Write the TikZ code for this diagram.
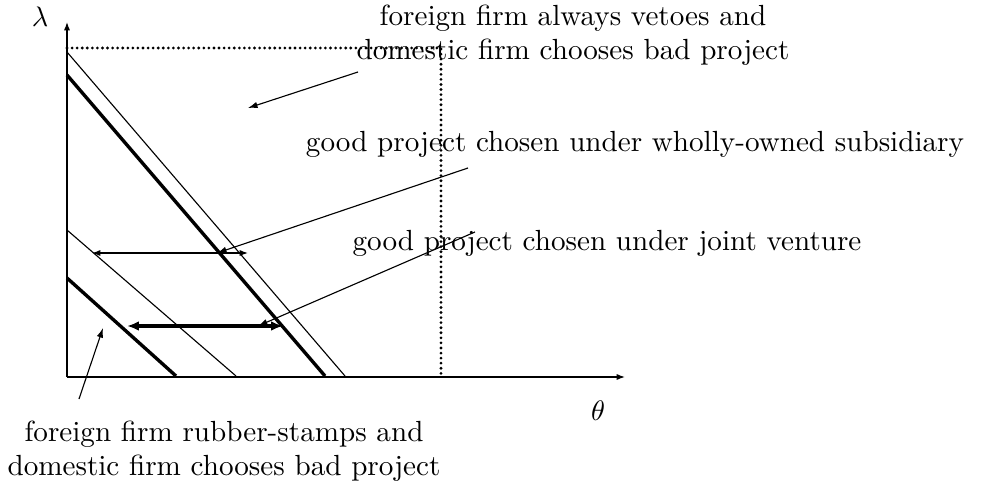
\documentclass[tikz,border=0pt]{standalone}
\usetikzlibrary{arrows.meta}
\begin{document}
\begin{tikzpicture}[x=0.3552pt,y=-0.3552pt,
  axis/.style={line width=0.4pt,-{Latex[length=3pt,width=2.2pt]}},
  thinl/.style={line width=0.4pt},
  thickl/.style={line width=1.2pt},
  dotl/.style={line width=1.1pt,line cap=round,dash pattern=on 0pt off 1.8pt},
  ptr/.style={line width=0.4pt,-{Latex[length=3.4pt,width=2.3pt]}},
  lbl/.style={inner sep=0pt,align=center,font=\fontsize{10.35}{12.1}\selectfont}]
\useasboundingbox (0,0) rectangle (992,481);
% axes
\coordinate (O) at (67,377);
\coordinate (ytop) at (67,22);
\coordinate (xend) at (625,377);
\draw[axis] (O) -- (ytop);
\draw[axis] (O) -- (xend);
\node[lbl] (lam) at (40,17) {$\lambda$};
\node[lbl] (th) at (598,411) {$\theta$};
% dotted frame
\coordinate (d1) at (67,48);
\coordinate (d2) at (441,48);
\coordinate (d3) at (441,377);
\draw[dotl] (d1) -- (d2) -- (d3);
% boundary lines
\coordinate (a1) at (67,52);  \coordinate (a2) at (345,376);
\coordinate (b1) at (67,75);  \coordinate (b2) at (325,376);
\coordinate (c1) at (67,230); \coordinate (c2) at (236,376);
\coordinate (e1) at (67,278); \coordinate (e2) at (176,376);
\draw[thinl] (a1) -- (a2);
\draw[thickl] (b1) -- (b2);
\draw[thinl] (c1) -- (c2);
\draw[thickl] (e1) -- (e2);
% double arrows
\coordinate (w1) at (92,253);  \coordinate (w2) at (248,253);
\coordinate (j1) at (127,326); \coordinate (j2) at (283,326);
\draw[thinl,{Latex[length=3pt,width=2.2pt]}-{Latex[length=3pt,width=2.2pt]}] (w1) -- (w2);
\draw[thickl,{Latex[length=4.2pt,width=3.4pt]}-{Latex[length=4.2pt,width=3.4pt]}] (j1) -- (j2);
% labels
\node[lbl] (tveto) at (573,35) {foreign firm always vetoes and\\domestic firm chooses bad project};
\node[lbl,anchor=base] (twos) at (635,152) {good project chosen under wholly-owned subsidiary};
\node[lbl,anchor=base] (tjv) at (607,250) {good project chosen under joint venture};
\node[lbl] (trub) at (224,451) {foreign firm rubber-stamps and\\domestic firm chooses bad project};
% pointers
\coordinate (p1s) at (358,72);  \coordinate (p1e) at (248,108);
\coordinate (p2s) at (468,168); \coordinate (p2e) at (217,253);
\coordinate (p3s) at (475,232); \coordinate (p3e) at (258,326);
\coordinate (p4s) at (79,399);  \coordinate (p4e) at (103,328);
\draw[ptr] (p1s) -- (p1e);
\draw[ptr] (p2s) -- (p2e);
\draw[ptr] (p3s) -- (p3e);
\draw[ptr] (p4s) -- (p4e);
\end{tikzpicture}
\end{document}
